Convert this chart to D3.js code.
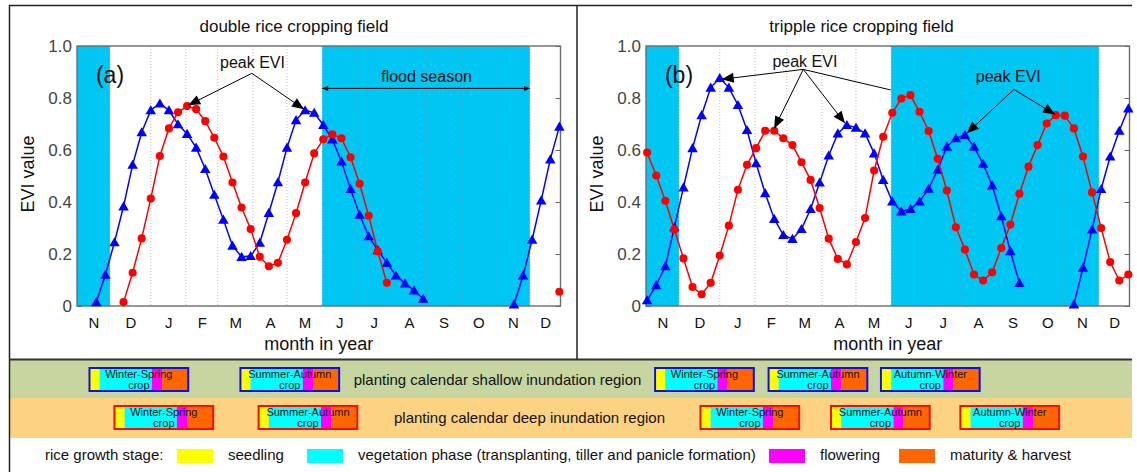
<!DOCTYPE html>
<html>
<head>
<meta charset="utf-8">
<script src="https://cdn.jsdelivr.net/npm/d3@7"></script>
<style>
  body { margin: 0; background: #fff; }
  svg { display: block; font-family: "Liberation Sans", Arial, sans-serif; }
</style>
</head>
<body>
<svg id="fig" width="1137" height="472"></svg>
<script>
// ---- time axis: days counted from 1 January (negative = previous year) ----
const monthEdges  = [-65, -36, 0, 31, 59, 90, 120, 151, 181, 212, 243, 273, 304, 334, 361];
const monthLabels = ["N", "D", "J", "F", "M", "A", "M", "J", "J", "A", "S", "O", "N", "D"];
const yTicks = [0, 0.2, 0.4, 0.6, 0.8, 1.0];
const compositeStep = 8;               // MODIS 8-day composites
const winterWet = [-65, -36];          // shaded early-season interval
const floodSeason = [151, 334];        // June – November

// ---- (a) double rice cropping field ----
const doubleShallowStart = -48;
const doubleShallow = [0.015, 0.12, 0.245, 0.383, 0.543, 0.668, 0.753, 0.779, 0.753, 0.699,
  0.662, 0.609, 0.527, 0.428, 0.332, 0.232, 0.189, 0.192, 0.243, 0.358,
  0.476, 0.609, 0.715, 0.753, 0.743, 0.696, 0.641, 0.556, 0.45, 0.351,
  0.268, 0.215, 0.166, 0.117, 0.087, 0.06, 0.028];
const doubleShallowNextStart = 320;
const doubleShallowNext = [0.006, 0.117, 0.255, 0.406, 0.564, 0.69];
const doubleDeepStart = -24;
const doubleDeep = [0.015, 0.128, 0.26, 0.413, 0.577, 0.683, 0.745, 0.769, 0.757, 0.711,
  0.647, 0.575, 0.475, 0.379, 0.296, 0.189, 0.153, 0.166, 0.255, 0.357,
  0.475, 0.587, 0.641, 0.66, 0.645, 0.572, 0.47, 0.347, 0.21, 0.089];
const doubleDeepNextStart = 360;
const doubleDeepNext = [0.055];

// ---- (b) tripple rice cropping field ----
const tripleShallowStart = -64;
const tripleShallow = [0.022, 0.08, 0.153, 0.303, 0.456, 0.607, 0.734, 0.84, 0.877, 0.84,
  0.773, 0.677, 0.549, 0.434, 0.335, 0.273, 0.258, 0.296, 0.373, 0.475,
  0.579, 0.664, 0.696, 0.686, 0.664, 0.587, 0.485, 0.402, 0.364, 0.373,
  0.402, 0.451, 0.524, 0.613, 0.645, 0.658, 0.613, 0.547, 0.464, 0.345,
  0.211, 0.089];
const tripleShallowNextStart = 312;
const tripleShallowNext = [0.006, 0.147, 0.294, 0.45, 0.575, 0.674, 0.76];
const tripleDeepStart = -64;
const tripleDeep = [0.59, 0.502, 0.405, 0.294, 0.183, 0.073, 0.045, 0.089, 0.194, 0.309,
  0.447, 0.543, 0.607, 0.674, 0.674, 0.645, 0.619, 0.553, 0.485, 0.377,
  0.259, 0.181, 0.16, 0.246, 0.338, 0.521, 0.651, 0.743, 0.798, 0.811,
  0.747, 0.673, 0.566, 0.444, 0.303, 0.217, 0.121, 0.098, 0.13, 0.223,
  0.313, 0.432, 0.536, 0.619, 0.702, 0.734, 0.732, 0.683, 0.575, 0.437,
  0.3, 0.169, 0.098, 0.121];

// ---- planting calendars ----
const stageNames = ["seedling", "vegetation phase (transplanting, tiller and panicle formation)", "flowering", "maturity & harvest"];
const stageColors = ["#ffff00", "#00ffff", "#ff00ff", "#ff6600"];
const stageDays = [9, 46, 9, 23];
const doubleCrops = ["Winter-Spring", "Summer-Autumn"];
const tripleCrops = ["Winter-Spring", "Summer-Autumn", "Autumn-Winter"];
const doubleShallowSowing = [-54, 79];
const tripleShallowSowing = [-57, 43, 142];
const doubleDeepSowing = [-32, 95];
const tripleDeepSowing = [-17, 98, 212];

// ---------------------------------------------------------------------------
const svg = d3.select("#fig");
const plotW = 483.5, plotTop = 46, plotBottom = 306;
const CYAN = "#00c6f4";
const colors = { shallow: "#0000ff", deep: "#ff0000" };

const y = d3.scaleLinear().domain([0, 1]).range([plotBottom, plotTop]);

function seriesPoints(start, values) {
  return values.map((v, i) => ({ day: start + i * compositeStep, v }));
}

const panels = [
  {
    left: 77, cellLeft: 9, cellRight: 577,
    title: "double rice cropping field", tag: "(a)",
    series: [
      { kind: "shallow", pts: seriesPoints(doubleShallowStart, doubleShallow) },
      { kind: "shallow", pts: seriesPoints(doubleShallowNextStart, doubleShallowNext) },
      { kind: "deep", pts: seriesPoints(doubleDeepStart, doubleDeep) },
      { kind: "deep", pts: seriesPoints(doubleDeepNextStart, doubleDeepNext) }
    ],
    notes: [
      { text: "peak EVI", at: [89.6, 0.915], from: [89, 0.895],
        to: [[33, 0.772], [135, 0.757]], heads: [true, true] }
    ],
    flood: true
  },
  {
    left: 646, cellLeft: 577, cellRight: 1144,
    title: "tripple rice cropping field", tag: "(b)",
    series: [
      { kind: "shallow", pts: seriesPoints(tripleShallowStart, tripleShallow) },
      { kind: "shallow", pts: seriesPoints(tripleShallowNextStart, tripleShallowNext) },
      { kind: "deep", pts: seriesPoints(tripleDeepStart, tripleDeep) }
    ],
    notes: [
      { text: "peak EVI", at: [75, 0.92], from: [73.6, 0.91],
        to: [[1.7, 0.872], [48, 0.683], [110.3, 0.703], [150.6, 0.831]],
        heads: [true, true, true, false] },
      { text: "peak EVI", at: [254.2, 0.863], from: [259.2, 0.833],
        to: [[217.6, 0.664], [295.4, 0.737]], heads: [true, true] }
    ],
    flood: false
  }
];

function arrowHead(g, x0, y0, x1, y1, len, half) {
  const a = Math.atan2(y1 - y0, x1 - x0);
  const bx = x1 - len * Math.cos(a), by = y1 - len * Math.sin(a);
  const px = -Math.sin(a) * half, py = Math.cos(a) * half;
  g.append("path")
    .attr("d", `M${x1},${y1}L${bx + px},${by + py}L${bx - px},${by - py}Z`)
    .attr("fill", "#000");
}

panels.forEach(p => {
  const x = d3.scaleLinear()
    .domain([monthEdges[0], monthEdges[monthEdges.length - 1]])
    .range([p.left, p.left + plotW]);
  const g = svg.append("g");

  // title
  g.append("text")
    .attr("x", (p.cellLeft + p.cellRight) / 2 + 1).attr("y", 32)
    .attr("text-anchor", "middle").attr("font-size", 17).attr("fill", "#111")
    .text(p.title);

  // left axis (ticks inward, labels outside)
  const ya = g.append("g").attr("transform", `translate(${p.left},0)`)
    .call(d3.axisLeft(y).tickValues(yTicks).tickSize(-5).tickPadding(5)
      .tickFormat(d => d === 0 ? "0" : d3.format(".1f")(d)));
  ya.select(".domain").remove();
  ya.selectAll("line").attr("stroke", "#666");
  ya.selectAll("text").attr("font-size", 17).attr("fill", "#444")
    .attr("font-family", "Liberation Sans, Arial, sans-serif");

  // shaded periods
  const shades = [winterWet, floodSeason];
  g.selectAll("rect.shade").data(shades).join("rect").attr("class", "shade")
    .attr("x", d => x(d[0])).attr("y", plotTop)
    .attr("width", d => x(d[1]) - x(d[0])).attr("height", plotBottom - plotTop)
    .attr("fill", CYAN);

  // month grid
  g.selectAll("line.grid").data(monthEdges.slice(1, -1)).join("line").attr("class", "grid")
    .attr("x1", d => x(d)).attr("x2", d => x(d))
    .attr("y1", plotTop).attr("y2", plotBottom)
    .attr("stroke", "#8a8a8a").attr("stroke-opacity", 0.55)
    .attr("stroke-width", 1).attr("stroke-dasharray", "1,2");

  // right axis ticks
  const yr = g.append("g").attr("transform", `translate(${p.left + plotW},0)`)
    .call(d3.axisRight(y).tickValues(yTicks).tickSize(-5).tickFormat(""));
  yr.select(".domain").remove();
  yr.selectAll("line").attr("stroke", "#666");

  // month labels centred in each month band
  const mids = monthEdges.slice(0, -1).map((d, i) => (d + monthEdges[i + 1]) / 2);
  const xa = g.append("g").attr("transform", `translate(0,${plotBottom})`)
    .call(d3.axisBottom(x).tickValues(mids).tickSize(0).tickPadding(11)
      .tickFormat((d, i) => monthLabels[i]));
  xa.select(".domain").remove();
  xa.selectAll("text").attr("font-size", 15).attr("fill", "#111")
    .attr("font-family", "Liberation Sans, Arial, sans-serif");

  // axis labels
  g.append("text")
    .attr("transform", `translate(${p.left - 49},${(plotTop + plotBottom) / 2 - 2}) rotate(-90)`)
    .attr("text-anchor", "middle").attr("dominant-baseline", "central")
    .attr("font-size", 18).attr("fill", "#111").text("EVI value");
  g.append("text")
    .attr("x", p.left + plotW / 2).attr("y", 350)
    .attr("text-anchor", "middle").attr("font-size", 18).attr("fill", "#111")
    .text("month in year");

  // frame
  g.append("rect")
    .attr("x", p.left).attr("y", plotTop).attr("width", plotW).attr("height", plotBottom - plotTop)
    .attr("fill", "none").attr("stroke", "#6b6b6b").attr("stroke-width", 1.4);

  // EVI curves
  const line = d3.line().x(d => x(d.day)).y(d => y(d.v));
  const order = [...p.series.filter(s => s.kind === "shallow"), ...p.series.filter(s => s.kind === "deep")];
  order.forEach(s => {
    g.append("path").datum(s.pts).attr("d", line)
      .attr("fill", "none").attr("stroke", colors[s.kind]).attr("stroke-width", 1.5);
    const sym = s.kind === "shallow"
      ? d3.symbol().type(d3.symbolTriangle).size(48)
      : d3.symbol().type(d3.symbolCircle).size(52);
    g.selectAll(null).data(s.pts).join("path")
      .attr("transform", d => `translate(${x(d.day)},${y(d.v) + (s.kind === "shallow" ? 1 : 0)})`)
      .attr("d", sym).attr("fill", colors[s.kind]);
  });

  // panel tag
  g.append("text").attr("x", x(-48.3)).attr("y", y(0.858))
    .attr("font-size", 23).attr("fill", "#111").text(p.tag);

  // peak annotations
  p.notes.forEach(n => {
    g.append("text").attr("x", x(n.at[0])).attr("y", y(n.at[1]))
      .attr("text-anchor", "middle").attr("font-size", 16).attr("fill", "#111").text(n.text);
    const x0 = x(n.from[0]), y0 = y(n.from[1]);
    n.to.forEach((t, i) => {
      const x1 = x(t[0]), y1 = y(t[1]);
      g.append("line").attr("x1", x0).attr("y1", y0).attr("x2", x1).attr("y2", y1)
        .attr("stroke", "#000").attr("stroke-width", 1);
      if (n.heads[i]) arrowHead(g, x0, y0, x1, y1, 12, 5);
    });
  });

  // flood season span
  if (p.flood) {
    const fy = y(0.837), fx0 = x(floodSeason[0]), fx1 = x(floodSeason[1]);
    g.append("line").attr("x1", fx0).attr("x2", fx1).attr("y1", fy).attr("y2", fy)
      .attr("stroke", "#000").attr("stroke-width", 1);
    arrowHead(g, fx1, fy, fx0, fy, 6, 2.5);
    arrowHead(g, fx0, fy, fx1, fy, 6, 2.5);
    g.append("text").attr("x", x(243)).attr("y", y(0.862))
      .attr("text-anchor", "middle").attr("font-size", 16).attr("fill", "#111")
      .text("flood season");
  }

  p.x = x;
});

// ---- planting calendar rows ----
const rows = [
  { top: 360, height: 38, fill: "#c7d6a0", border: "#1010e0",
    label: "planting calendar shallow inundation region", labelX: 497.5,
    crops: [[doubleCrops, doubleShallowSowing, 0], [tripleCrops, tripleShallowSowing, 1]] },
  { top: 398, height: 40, fill: "#fdd383", border: "#f01010",
    label: "planting calendar deep inundation region", labelX: 529.5,
    crops: [[doubleCrops, doubleDeepSowing, 0], [tripleCrops, tripleDeepSowing, 1]] }
];

rows.forEach(r => {
  svg.append("rect").attr("x", 9).attr("y", r.top).attr("width", 1123).attr("height", r.height)
    .attr("fill", r.fill);
  svg.append("text").attr("x", r.labelX).attr("y", r.top + 25)
    .attr("text-anchor", "middle").attr("font-size", 15).attr("fill", "#111").text(r.label);
  const boxTop = r.top + 8, boxH = 23;
  r.crops.forEach(([names, sowing, pi]) => {
    const x = panels[pi].x;
    names.forEach((name, k) => {
      const g = svg.append("g");
      let d0 = sowing[k];
      const x0 = x(d0);
      stageDays.forEach((len, s) => {
        g.append("rect").attr("x", x(d0)).attr("y", boxTop)
          .attr("width", x(d0 + len) - x(d0)).attr("height", boxH).attr("fill", stageColors[s]);
        d0 += len;
      });
      g.append("rect").attr("x", x0).attr("y", boxTop).attr("width", x(d0) - x0).attr("height", boxH)
        .attr("fill", "none").attr("stroke", r.border).attr("stroke-width", 2);
      const cx = (x0 + x(d0)) / 2;
      g.append("text").attr("x", cx).attr("y", boxTop + 10).attr("text-anchor", "middle")
        .attr("font-size", 11).attr("fill", "#111").text(name);
      g.append("text").attr("x", cx).attr("y", boxTop + 21).attr("text-anchor", "middle")
        .attr("font-size", 11).attr("fill", "#111").text("crop");
    });
  });
});

// ---- growth stage legend ----
const legend = svg.append("g");
legend.append("text").attr("x", 45).attr("y", 460).attr("font-size", 15).attr("fill", "#111")
  .text("rice growth stage:");
const swatchX = [177, 307, 769, 899];
stageNames.forEach((name, i) => {
  legend.append("rect").attr("x", swatchX[i]).attr("y", 449).attr("width", 36).attr("height", 14)
    .attr("fill", stageColors[i]);
  legend.append("text").attr("x", swatchX[i] + 51).attr("y", 460).attr("font-size", 15)
    .attr("fill", "#111").text(name);
});

// ---- figure frame ----
const frame = svg.append("g").attr("stroke", "#222").attr("fill", "none");
frame.append("line").attr("x1", 9).attr("x2", 1132).attr("y1", 5.5).attr("y2", 5.5).attr("stroke-width", 1.5);
frame.append("line").attr("x1", 9.5).attr("x2", 9.5).attr("y1", 5).attr("y2", 472).attr("stroke-width", 1.5);
frame.append("line").attr("x1", 577).attr("x2", 577).attr("y1", 5).attr("y2", 359).attr("stroke-width", 1.5);
frame.append("line").attr("x1", 9).attr("x2", 1132).attr("y1", 359.5).attr("y2", 359.5).attr("stroke-width", 2)
  .attr("stroke", "#333");
</script>
</body>
</html>
